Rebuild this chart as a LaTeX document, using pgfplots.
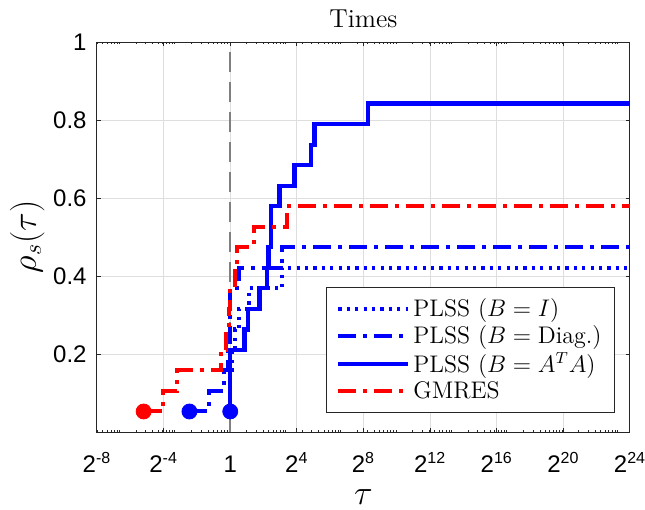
\documentclass[border=0pt]{standalone}
\usepackage{pgfplots}
\pgfplotsset{compat=1.18}
\usepackage{fontspec}
\newfontfamily\arial{Liberation Sans}
\definecolor{axgray}{rgb}{0.15,0.15,0.15}
\definecolor{gridgray}{rgb}{0.87,0.87,0.87}
\definecolor{vgray}{rgb}{0.5,0.5,0.5}
\begin{document}
\begin{tikzpicture}
\begin{axis}[
  at={(0,0)}, anchor=south west,
  scale only axis, width=266.5pt, height=195pt,
  xmin=-8, xmax=24, ymin=0, ymax=1,
  axis line style={axgray, line width=0.5pt},
  every tick/.style={axgray, line width=0.5pt},
  major tick length=2.2pt, minor tick length=1.2pt,
  xtick={-8,-4,0,4,8,12,16,20,24},
  xticklabels={2\textsuperscript{-8},2\textsuperscript{-4},1,2\textsuperscript{4},2\textsuperscript{8},2\textsuperscript{12},2\textsuperscript{16},2\textsuperscript{20},2\textsuperscript{24}},
  minor xtick={-7.966,-7.644,-7.381,-7.159,-6.966,-6.796,-6.644,-5.644,-5.059,-4.644,-4.322,-4.059,-3.837,-3.644,-3.474,-3.322,-2.322,-1.737,-1.322,-1,-0.737,-0.515,-0.322,-0.152,1,1.585,2,2.322,2.585,2.807,3,3.170,3.322,4.322,4.907,5.322,5.644,5.907,6.129,6.322,6.492,6.644,7.644,8.229,8.644,8.966,9.229,9.451,9.644,9.814,9.966,10.966,11.551,11.966,12.288,12.551,12.773,12.966,13.136,13.288,14.288,14.873,15.288,15.610,15.873,16.095,16.288,16.458,16.610,17.610,18.195,18.610,18.932,19.195,19.417,19.610,19.780,19.932,20.932,21.517,21.932,22.254,22.517,22.739,22.932,23.102,23.253},
  ytick={0.2,0.4,0.6,0.8,1},
  yticklabels={0.2,0.4,0.6,0.8,1},
  xticklabel style={font=\arial\fontsize{12}{14}\selectfont, anchor=base, yshift=-20pt, inner sep=0pt},
  yticklabel style={font=\arial\fontsize{12}{14}\selectfont, anchor=east, inner sep=0pt, xshift=-5pt},
  grid=major,
  major grid style={gridgray, line width=0.5pt},
  title={Times},
  title style={font=\fontsize{13}{15}\selectfont, at={(axis description cs:0.5,1)}, anchor=base, yshift=1.5pt},
  xlabel={$\tau$},
  xlabel style={font=\fontsize{17}{19}\selectfont, at={(axis description cs:0.5,0)}, anchor=base, yshift=-36pt, inner sep=0pt},
  ylabel={$\rho_s(\tau)$},
  ylabel style={font=\fontsize{17}{19}\selectfont, at={(axis description cs:-0.131,0.5)}, anchor=center},
  legend cell align=left,
  legend image code/.code={\draw[#1] (0pt,0pt) -- (35pt,0pt);},
  legend style={at={(axis description cs:0.972,0.049)}, anchor=south east,
    draw=axgray, line width=0.5pt, fill=white,
    font=\fontsize{12}{14}\selectfont,
    inner xsep=5pt, inner ysep=4pt,
    nodes={inner sep=1.5pt}, row sep=0pt},
]
% vertical reference line at tau = 1
\addplot[vgray, line width=0.85pt, dash pattern=on 10pt off 5pt, forget plot] coordinates {(0,0) (0,1)};

% PLSS (B = I)
\addplot[blue, line width=2pt, dash pattern=on 1.6pt off 2.6pt] coordinates {
(0,0.0526)(0,0.1579)(0.1,0.1579)(0.1,0.2105)(0.3,0.2105)(0.3,0.2632)(0.55,0.2632)(0.55,0.3158)(1.15,0.3158)(1.15,0.3684)(3.1,0.3684)(3.1,0.4211)(24,0.4211)};
\addlegendentry{PLSS $(B=I)$}

% PLSS (B = Diag.)
\addplot[blue, line width=2pt, dash pattern=on 9pt off 3.5pt on 2pt off 3.5pt] coordinates {
(-2.45,0.0526)(-1.3,0.0526)(-1.3,0.1053)(-0.35,0.1053)(-0.35,0.1579)(-0.15,0.1579)(-0.15,0.2105)(0,0.2105)(0,0.3684)(0.55,0.3684)(0.55,0.4211)(3.1,0.4211)(3.1,0.4737)(24,0.4737)};
\addlegendentry{PLSS $(B=\mathrm{Diag.})$}

% PLSS (B = A^T A)
\addplot[blue, line width=2.15pt] coordinates {
(0,0.0526)(0,0.2105)(0.85,0.2105)(0.85,0.2632)(1.05,0.2632)(1.05,0.3158)(1.75,0.3158)(1.75,0.3684)(2.2,0.3684)(2.2,0.4211)(2.3,0.4211)(2.3,0.4737)(2.45,0.4737)(2.45,0.5789)(2.95,0.5789)(2.95,0.6316)(3.85,0.6316)(3.85,0.6842)(4.85,0.6842)(4.85,0.7368)(5.05,0.7368)(5.05,0.7895)(8.25,0.7895)(8.25,0.8421)(24,0.8421)};
\addlegendentry{PLSS $(B=A^TA)$}

% GMRES
\addplot[red, line width=2pt, dash pattern=on 9pt off 3.5pt on 2pt off 3.5pt] coordinates {
(-5.2,0.0526)(-4.05,0.0526)(-4.05,0.1053)(-3.2,0.1053)(-3.2,0.1579)(-0.55,0.1579)(-0.55,0.2105)(-0.25,0.2105)(-0.25,0.2632)(-0.1,0.2632)(-0.1,0.3158)(0,0.3158)(0,0.3684)(0.3,0.3684)(0.3,0.4211)(0.4,0.4211)(0.4,0.4737)(1.4,0.4737)(1.4,0.5263)(3.4,0.5263)(3.4,0.5789)(24,0.5789)};
\addlegendentry{GMRES}

% start markers
\addplot[blue, only marks, mark=*, mark size=3.75pt, forget plot] coordinates {(0,0.0526)};
\addplot[blue, only marks, mark=*, mark size=3.75pt, forget plot] coordinates {(-2.45,0.0526)};
\addplot[red, only marks, mark=*, mark size=3.75pt, forget plot] coordinates {(-5.2,0.0526)};
\end{axis}
\pgfresetboundingbox
\path[use as bounding box] (-48.5pt,-39pt) rectangle (274pt,216pt);
\end{tikzpicture}
\end{document}
